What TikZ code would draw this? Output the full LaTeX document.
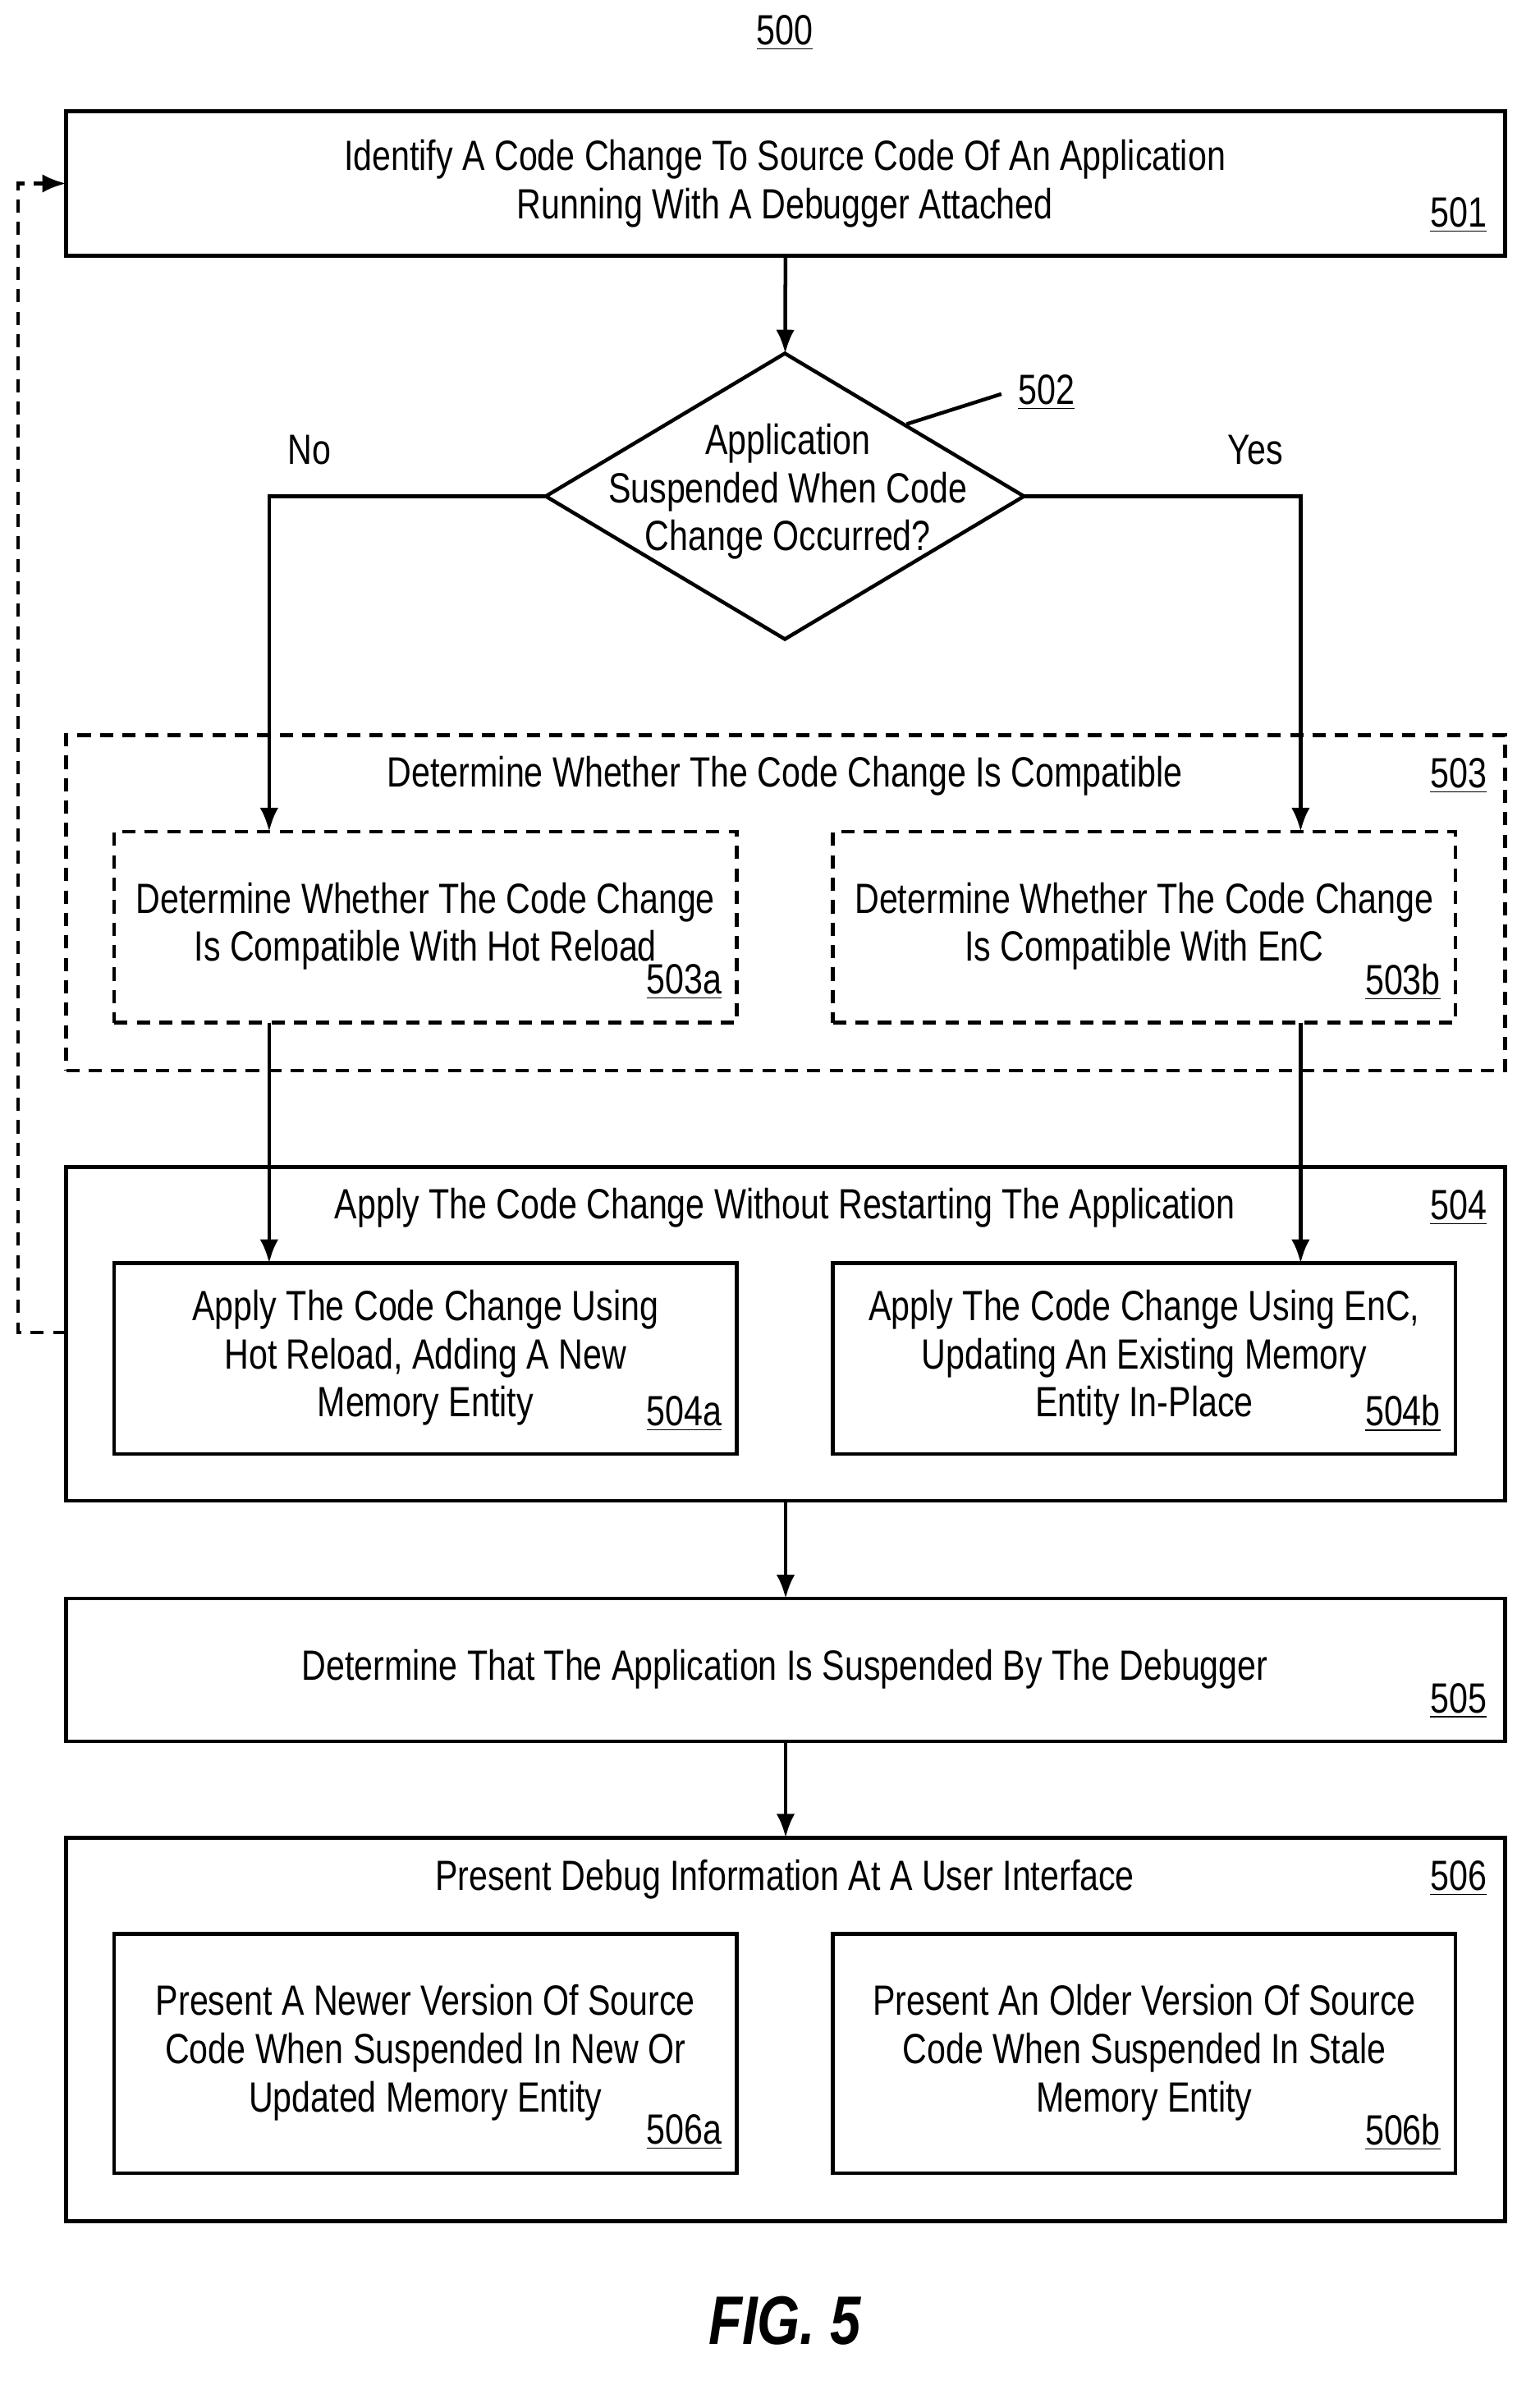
\documentclass[tikz,border=0pt]{standalone}
\usepackage{fontspec}
\setmainfont{Liberation Sans}[FakeStretch=0.8]
\usetikzlibrary{arrows.meta,shapes.geometric}
\newcommand{\bx}[6]{\node[#6, minimum width={(#4-#2)*0.02cm}, minimum height={(#5-#3)*0.02cm}] (#1) at ({(#2+#4)/2},{(#3+#5)/2}) {};}
\begin{document}
\begin{tikzpicture}[x=0.02cm,y=-0.02cm,
  bs/.style={draw,line width=1.4pt,inner sep=0,outer sep=0},
  ds/.style={bs,dash pattern=on 5pt off 3.5pt},
  t/.style={font=\fontsize{16}{18.2}\selectfont,align=center,inner sep=0},
  lb/.style={font=\fontsize{16}{18}\selectfont,inner sep=0},
  ar/.style={line width=1.4pt,-{Latex[length=9pt,width=7pt]}}]
\useasboundingbox (0,0) rectangle (1024,1586);
\node[lb] (n500) at (522,22) {\underline{500}};
\bx{b501}{44}{74}{1001}{170}{bs}
\node[t] (t501) at (522,122) {Identify A Code Change To Source Code Of An Application\\Running With A Debugger Attached};
\node[lb] (l501) at (970,143) {\underline{501}};
\node[draw,line width=1.4pt,diamond,inner sep=0,outer sep=0,minimum width=318*0.02cm,minimum height=190*0.02cm,aspect=1.67] (d502) at (522,330) {};
\node[t] (t502) at (524,327) {Application\\Suspended When Code\\Change Occurred?};
\draw[ar] (b501) -- (d502);
\node[lb] (l502) at (696,261) {\underline{502}};
\coordinate (c502a) at (603,282); \coordinate (c502b) at (666,262);
\draw[line width=1.4pt] (c502a) -- (c502b);
\node[lb] (no) at (206,299) {No};
\node[lb] (yes) at (835,299) {Yes};
\bx{b503}{44}{489}{1001}{712}{ds}
\node[t] (t503) at (522,516) {Determine Whether The Code Change Is Compatible};
\node[lb] (l503) at (970,516) {\underline{503}};
\bx{b503a}{76}{553}{490}{680}{ds}
\bx{b503b}{554}{553}{968}{680}{ds}
\node[t] at (283,616) {Determine Whether The Code Change\\Is Compatible With Hot Reload};
\node[t] at (761,616) {Determine Whether The Code Change\\Is Compatible With EnC};
\node[lb] at (455,653) {\underline{503a}};
\node[lb] at (933,653) {\underline{503b}};
\draw[ar] (d502.west) -| (b503a.north -| 179,0);
\draw[ar] (d502.east) -| (b503b.north -| 865,0);
\bx{b504}{44}{776}{1001}{998}{bs}
\node[t] at (522,803) {Apply The Code Change Without Restarting The Application};
\node[lb] at (970,803) {\underline{504}};
\bx{b504a}{76}{840}{490}{967}{bs}
\bx{b504b}{554}{840}{968}{967}{bs}
\node[t] at (283,903) {Apply The Code Change Using\\Hot Reload, Adding A New\\Memory Entity};
\node[t] at (761,903) {Apply The Code Change Using EnC,\\Updating An Existing Memory\\Entity In-Place};
\node[lb] at (455,940) {\underline{504a}};
\node[lb] at (933,940) {\underline{504b}};
\draw[ar] (b503a.south -| 179,0) -- (b504a.north -| 179,0);
\draw[ar] (b503b.south -| 865,0) -- (b504b.north -| 865,0);
\draw[line width=1.4pt,dash pattern=on 5pt off 3.5pt,-{Latex[length=9pt,width=7pt]}] (b504.west |- 0,886) -- (12,886) -- (12,122) -- (b501.west |- 0,122);
\bx{b505}{44}{1063}{1001}{1158}{bs}
\node[t] at (522,1110) {Determine That The Application Is Suspended By The Debugger};
\node[lb] at (970,1131) {\underline{505}};
\draw[ar] (b504) -- (b505);
\bx{b506}{44}{1222}{1001}{1477}{bs}
\node[t] at (522,1250) {Present Debug Information At A User Interface};
\node[lb] at (970,1249) {\underline{506}};
\draw[ar] (b505) -- (b506);
\bx{b506a}{76}{1286}{490}{1445}{bs}
\bx{b506b}{554}{1286}{968}{1445}{bs}
\node[t] at (283,1365) {Present A Newer Version Of Source\\Code When Suspended In New Or\\Updated Memory Entity};
\node[t] at (761,1365) {Present An Older Version Of Source\\Code When Suspended In Stale\\Memory Entity};
\node[lb] at (455,1418) {\underline{506a}};
\node[lb] at (933,1418) {\underline{506b}};
\node[font=\fontsize{26}{28}\selectfont\bfseries\itshape,inner sep=0] (fig) at (522,1543) {FIG. 5};
\end{tikzpicture}
\end{document}
